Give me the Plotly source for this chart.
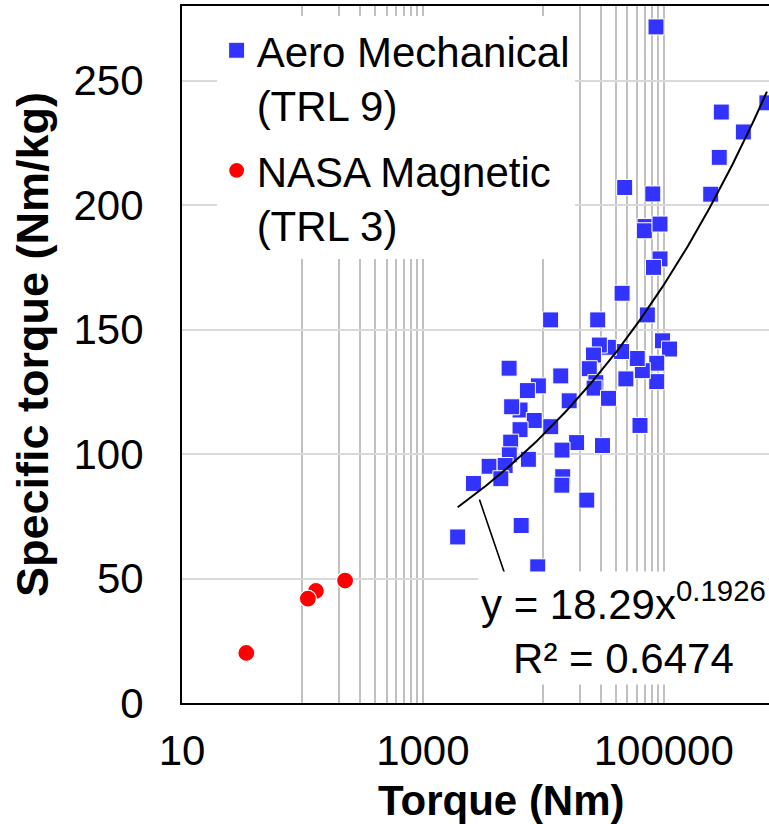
import numpy as np
import plotly.graph_objects as go

# ---- data ----
aero_torque = [86300, 300600, 458000, 719000, 289000, 245500, 47400, 81100, 70000, 69000,
               93100, 93100, 82200, 45100, 73100, 97700, 111700, 87500, 87500, 66400,
               60300, 48500, 44700, 34700, 29200, 28300, 11500, 26100, 24100, 27300,
               26400, 34800, 13960, 9100, 7380, 5200, 16400, 6410, 5460, 8410,
               6410, 11530, 63500, 5360, 18900, 31000, 14300, 5220, 7520, 3550,
               4820, 4440, 2630, 14500, 14250, 22960, 6550, 1945, 8990]
aero_specific = [271.6, 237.4, 229.4, 241.1, 219.2, 204.4, 207.1, 204.5, 191.4, 189.7,
                 192.4, 178.4, 175.0, 164.6, 155.9, 145.5, 142.2, 136.5, 129.1, 133.5,
                 138.4, 130.2, 141.2, 142.9, 143.8, 153.9, 153.9, 139.8, 134.3, 128.7,
                 126.5, 122.4, 131.4, 127.4, 125.5, 134.5, 121.4, 117.7, 119.0, 113.5,
                 109.8, 111.0, 111.5, 104.8, 104.6, 103.4, 101.6, 99.7, 97.9, 95.1,
                 95.4, 90.1, 88.2, 90.9, 87.5, 81.5, 71.3, 66.7, 54.7]

nasa_torque = [34.2, 129.4, 111, 226]
nasa_specific = [20.1, 45.0, 41.9, 49.2]

# power-law trendline shown on the chart: y = 18.29 x^0.1926, R² = 0.6474
fit_a = 18.29
fit_b = 0.1926
fit_r2 = 0.6474

x_tick_labels = {10: "10", 1000: "1000", 100000: "100000"}
y_ticks = [0, 50, 100, 150, 200, 250]

# vertical gridlines (Excel draws minor lines in every other decade)
grid_x = [10] + [100 * k for k in range(1, 11)] + [10000 * k for k in range(1, 11)]
grid_text = [x_tick_labels.get(v, "") for v in grid_x]

trend_x = np.logspace(np.log10(min(aero_torque)), np.log10(max(aero_torque)), 200)
trend_y = fit_a * trend_x ** fit_b

FONT = "Liberation Sans, Arial, sans-serif"
BLUE = "#3333FF"
RED = "#FF0000"

fig = go.Figure()
fig.add_trace(go.Scatter(
    x=aero_torque, y=aero_specific, mode="markers",
    name="Aero Mechanical<br>(TRL 9)", legendgroup="aero",
    marker=dict(symbol="square", size=16, color=BLUE, line=dict(color="white", width=1)),
))
fig.add_trace(go.Scatter(
    x=nasa_torque, y=nasa_specific, mode="markers",
    name="NASA Magnetic<br>(TRL 3)", legendgroup="nasa",
    marker=dict(symbol="circle", size=17, color=RED, line=dict(color="white", width=1.2)),
))
fig.add_trace(go.Scatter(
    x=trend_x, y=trend_y, mode="lines", showlegend=False, hoverinfo="skip",
    line=dict(color="black", width=2),
))

# leader line from trendline to equation label
lead_x = 2950
fig.add_annotation(x=np.log10(lead_x), y=fit_a * lead_x ** fit_b - 3.5, xref="x", yref="y",
                   text="", showarrow=True, arrowhead=0, arrowwidth=1.6,
                   arrowcolor="black", ax=31, ay=91, standoff=0)

fig.add_annotation(
    xref="paper", yref="paper", x=0.7513, y=0.1076, xanchor="center", yanchor="middle",
    text=f"y = {fit_a}x<sup>{fit_b}</sup><br>R² = {fit_r2}",
    showarrow=False, align="center", bgcolor="white", borderpad=2,
    font=dict(family=FONT, size=42, color="black"),
)

# axis titles
fig.add_annotation(xref="paper", yref="paper", x=0.5443, y=-0.1392,
                   xanchor="center", yanchor="middle", showarrow=False,
                   text="<b>Torque (Nm)</b>", font=dict(family=FONT, size=42, color="black"))
fig.add_annotation(xref="paper", yref="paper", x=-0.2555, y=0.5136,
                   xanchor="center", yanchor="middle", showarrow=False, textangle=-90,
                   text="<b>Specific torque (Nm/kg)</b>", font=dict(family=FONT, size=45, color="black"))

fig.update_layout(
    width=769, height=824,
    margin=dict(l=182, r=0, t=6, b=121),
    plot_bgcolor="white", paper_bgcolor="white",
    font=dict(family=FONT, size=42, color="black"),
    legend=dict(x=0.059, y=0.985, xanchor="left", yanchor="top", bgcolor="white",
                font=dict(family=FONT, size=42, color="black"), valign="top",
                borderwidth=0, tracegroupgap=8,
                entrywidth=330, entrywidthmode="pixels"),
)
fig.update_xaxes(
    type="log", range=[1, 5.874],
    tickmode="array", tickvals=grid_x, ticktext=grid_text,
    showgrid=True, gridcolor="#c0c0c0", gridwidth=1.5,
    showline=True, linecolor="black", linewidth=2, mirror=True,
    ticks="", zeroline=False, ticklabelstandoff=10,
    tickfont=dict(family=FONT, size=42, color="black"),
)
fig.update_yaxes(
    range=[0, 280], tickmode="array", tickvals=y_ticks,
    showgrid=True, gridcolor="#d9d9d9", gridwidth=1.5,
    showline=True, linecolor="black", linewidth=2,
    ticks="", zeroline=False, ticklabelstandoff=28,
    tickfont=dict(family=FONT, size=42, color="black"),
)

fig.write_html("out.html", config={"displayModeBar": False},
               post_script="document.body.style.margin='0px';")
